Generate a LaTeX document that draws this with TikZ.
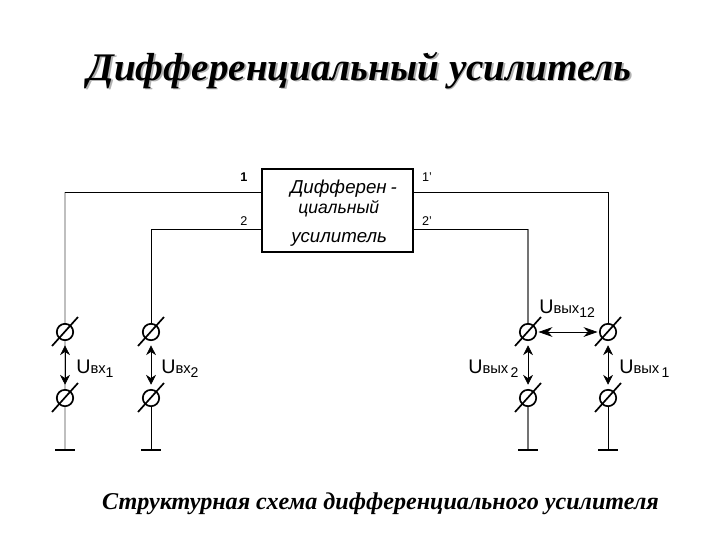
\documentclass[tikz,border=0pt]{standalone}
\usepackage{fontspec}
\setmainfont{Liberation Serif}
\setsansfont{Liberation Sans}
\usetikzlibrary{arrows.meta}
\tikzset{
	term/.style={circle, draw, line width=1.2pt, inner sep=0pt, minimum size=0.41cm},
	termslash/.style={line width=1.2pt},
	wire/.style={line width=0.7pt},
	paleWire/.style={line width=1.2pt, black!25},
	greyWire/.style={line width=0.8pt, black!55},
	groundbar/.style={rectangle, fill=black, inner sep=0pt, minimum width=0.52cm, minimum height=1.4pt},
	volt/.style={arrows={Stealth[length=7pt, width=7pt]-Stealth[length=7pt, width=7pt]}, line width=0.5pt, shorten >=3pt, shorten <=3pt},
	voltwide/.style={arrows={Stealth[length=10pt, width=7pt]-Stealth[length=10pt, width=7pt]}, line width=0.5pt, shorten >=1pt, shorten <=1pt},
	pinlabel/.style={font=\sffamily\fontsize{9}{10}\selectfont, inner sep=0pt},
	boxtext/.style={font=\sffamily\itshape\fontsize{13.3}{15}\selectfont, inner sep=0pt, anchor=base west},
	ulabel/.style={font=\sffamily\fontsize{14}{16}\selectfont, inner sep=0pt, anchor=base west}
}
\newcommand{\volts}[2]{U{\fontsize{10.5}{12}\selectfont #1}\raisebox{-3.5pt}{\fontsize{10}{12}\selectfont #2}}
\begin{document}
\begin{tikzpicture}[x=0.025cm, y=-0.025cm]
	\useasboundingbox (0, 0) rectangle (720, 540);
	\node[font=\bfseries\itshape\fontsize{27.8}{30}\selectfont, text=black!30, inner sep=0pt, anchor=base] (titleshadow) at (361.1, 81.6) {Дифференциальный усилитель};
	\node[font=\bfseries\itshape\fontsize{27.8}{30}\selectfont, inner sep=0pt, anchor=base] (title) at (359.5, 80) {Дифференциальный усилитель};
	\node[font=\bfseries\itshape\fontsize{17.15}{20}\selectfont, inner sep=0pt, anchor=base] (caption) at (380.5, 509) {Структурная схема дифференциального усилителя};

	\node[draw, line width=1.3pt, minimum width=3.77cm, minimum height=2.07cm, inner sep=0pt] (amp) at (337.5, 210.5) {};
	\node[boxtext] (line1) at (290, 193) {Дифферен\hspace{0.2em}-};
	\node[boxtext, font=\sffamily\itshape\fontsize{12.5}{15}\selectfont] (line2) at (298, 213) {циальный};
	\node[boxtext] (line3) at (291, 242) {усилитель};

	\foreach \n/\x in {a/65, b/151, c/528, d/608} {
		\node[term] (\n top) at (\x, 332) {};
		\node[term] (\n bot) at (\x, 398) {};
		\node[groundbar] (\n gnd) at (\x, 450) {};
		\draw[termslash] (\n top.center) ++(-13, 14) -- ++(26, -29);
		\draw[termslash] (\n bot.center) ++(-13, 14) -- ++(26, -29);
	}

	\coordinate (in1) at (amp.west |- 0, 192);
	\coordinate (in2) at (amp.west |- 0, 229);
	\coordinate (out1) at (amp.east |- 0, 192);
	\coordinate (out2) at (amp.east |- 0, 229);
	\coordinate (cornera) at (atop |- in1);
	\coordinate (cornerc) at (ctop |- out2);

	\draw[paleWire] (cornera) -- (atop);
	\draw[wire] (in1) -- (cornera);
	\draw[wire] (in2) -| (btop);
	\draw[greyWire] (cornerc) -- (ctop);
	\draw[wire] (out2) -- (cornerc);
	\draw[wire] (out1) -| (dtop);
	\draw[paleWire] (abot) -- (agnd);
	\draw[wire] (bbot) -- (bgnd);
	\draw[greyWire] (cbot) -- (cgnd);
	\draw[wire] (dbot) -- (dgnd);
	\draw[paleWire] (atop) -- (abot);

	\draw[volt] (atop) -- (abot);
	\draw[volt] (btop) -- (bbot);
	\draw[volt] (ctop) -- (cbot);
	\draw[volt] (dtop) -- (dbot);
	\draw[voltwide] (ctop) -- (dtop);

	\node[pinlabel, font=\sffamily\bfseries\fontsize{9}{10}\selectfont] (pin1) at (244, 177) {1};
	\node[pinlabel] (pin2) at (244, 221) {2};
	\node[pinlabel] (pin1o) at (427, 177) {1'};
	\node[pinlabel] (pin2o) at (427, 221) {2'};

	\node[ulabel] (uin1) at (76, 373) {\volts{вх}{1}};
	\node[ulabel] (uin2) at (161, 373) {\volts{вх}{2}};
	\node[ulabel] (uout2) at (468, 373) {\volts{вых}{\,2}};
	\node[ulabel] (uout1) at (619, 373) {\volts{вых}{\,1}};
	\node[ulabel] (uout12) at (539, 313) {\volts{вых}{12}};
\end{tikzpicture}
\end{document}
